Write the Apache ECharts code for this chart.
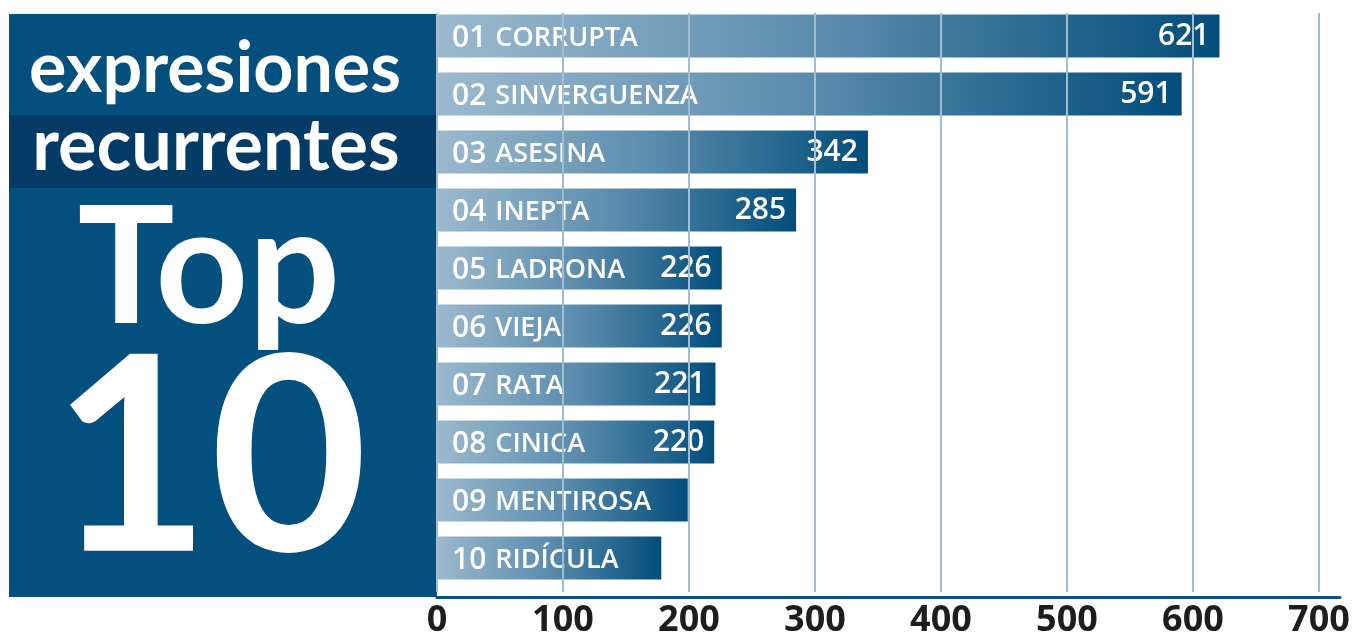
<!DOCTYPE html>
<html>
<head>
<meta charset="utf-8">
<script src="https://cdn.jsdelivr.net/npm/echarts@6/dist/echarts.min.js"></script>
<style>
    html, body { margin: 0; padding: 0; background: #fff; }
    #top10 { width: 1354px; height: 639px; }
</style>
</head>
<body>
<div id="top10"></div>
<script>
// datos
var palabras = ['CORRUPTA', 'SINVERGUENZA', 'ASESINA', 'INEPTA', 'LADRONA', 'VIEJA', 'RATA', 'CINICA', 'MENTIROSA', 'RIDÍCULA'];
var menciones = [621, 591, 342, 285, 226, 226, 221, 220, 199, 178];
var conEtiqueta = 8; // solo las 8 primeras llevan cifra
var ejeTicks = [0, 100, 200, 300, 400, 500, 600, 700];

var posiciones = palabras.map(function (p, i) {
    return (i + 1 < 10 ? '0' : '') + (i + 1) + ' ' + p;
});

var chart = echarts.init(document.getElementById('top10'));

var gradiente = new echarts.graphic.LinearGradient(0, 0, 1, 0, [
    {offset: 0, color: '#9bb9cd'},
    {offset: 0.5, color: '#5b8cad'},
    {offset: 1, color: '#024d7b'}
]);

chart.setOption({
    animation: false,
    textStyle: {fontFamily: 'Open Sans'},
    graphic: [
        {type: 'rect', shape: {x: 9, y: 14, width: 428, height: 583}, style: {fill: '#034f7d'}},
        {type: 'rect', shape: {x: 9, y: 115, width: 428, height: 73}, style: {fill: '#023c66'}},
        {
            type: 'text', x: 215, y: 69,
            style: {text: 'expresiones', fill: '#fff', font: 'bold 70px Lato', align: 'center', verticalAlign: 'middle'}
        },
        {
            type: 'text', x: 216, y: 147,
            style: {text: 'recurrentes', fill: '#fff', font: 'bold 72px Lato', align: 'center', verticalAlign: 'middle'}
        },
        {
            type: 'text', x: 209, y: 271,
            style: {text: 'Top', fill: '#fff', font: 'bold 162px Lato', align: 'center', verticalAlign: 'middle'}
        },
        {
            type: 'text', x: 210, y: 463,
            style: {text: '10', fill: '#fff', font: 'bold 272px Lato', align: 'center', verticalAlign: 'middle'}
        }
    ],
    grid: [
        {left: 437, top: 7, width: 882, height: 580},
        {left: 437, top: 13, width: 882, height: 584},
        {left: 437, top: 13, right: 14, height: 584}
    ],
    xAxis: [
        {gridIndex: 0, type: 'value', min: 0, max: 700, show: false},
        {
            gridIndex: 1, type: 'value', min: 0, max: 700, interval: 100, z: 4,
            axisLine: {show: false},
            axisTick: {show: false},
            splitLine: {show: true, lineStyle: {color: '#a0bdd2', width: 2}},
            axisLabel: {
                margin: 11, color: '#1d1d1b', fontSize: 36, fontWeight: 'bold',
                fontFamily: 'Open Sans',
                formatter: function (v) { return ejeTicks.indexOf(v) >= 0 ? v : ''; }
            }
        },
        {
            gridIndex: 2, type: 'value', min: 0, max: 1,
            axisLine: {show: true, lineStyle: {color: '#0b5283', width: 3}},
            axisTick: {show: false},
            axisLabel: {show: false},
            splitLine: {show: false}
        }
    ],
    yAxis: [
        {
            gridIndex: 0, type: 'category', data: posiciones, inverse: true, z: 3,
            axisLine: {show: false},
            axisTick: {show: false},
            axisLabel: {
                inside: true, margin: 15,
                formatter: function (v) {
                    var num = v.slice(0, 2), pal = v.slice(3);
                    return '{n|' + num + '}{w|' + pal + '}';
                },
                rich: {
                    n: {color: '#fff', fontSize: 30, fontWeight: 600, fontFamily: 'Open Sans', lineHeight: 40, padding: [4, 9, 0, 0]},
                    w: {color: '#fff', fontSize: 27, fontWeight: 600, fontFamily: 'Open Sans', lineHeight: 40, padding: [4, 0, 0, 0]}
                }
            }
        },
        {gridIndex: 1, type: 'value', show: false},
        {gridIndex: 2, type: 'value', show: false}
    ],
    series: [
        {
            type: 'bar',
            xAxisIndex: 0,
            yAxisIndex: 0,
            barWidth: 43,
            data: menciones,
            itemStyle: {color: gradiente},
            label: {
                show: true,
                position: 'insideRight',
                distance: 10,
                color: '#fff',
                fontSize: 30,
                fontWeight: 600,
                fontFamily: 'Open Sans',
                padding: [4, 0, 0, 0],
                formatter: function (p) {
                    return p.dataIndex < conEtiqueta ? p.value : '';
                }
            }
        }
    ]
});
</script>
</body>
</html>
